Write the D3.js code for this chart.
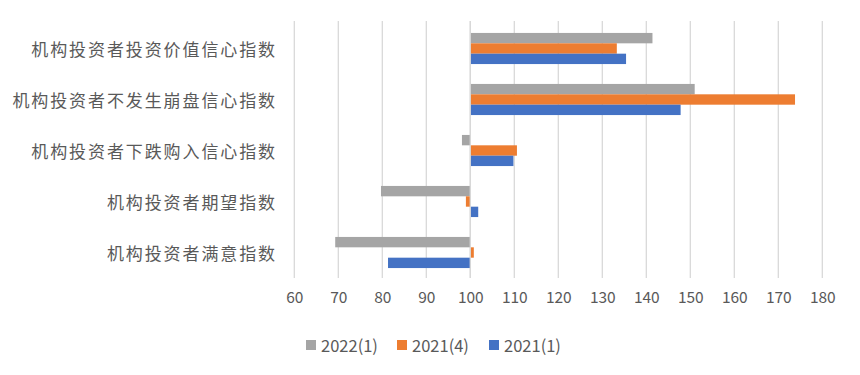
<!DOCTYPE html>
<html><head><meta charset="utf-8">
<script src="https://cdn.jsdelivr.net/npm/d3@7"></script>
<style>body{margin:0;background:#fff}</style>
</head><body><svg id="c" width="860" height="375"></svg>
<script>
const categories = ["机构投资者投资价值信心指数","机构投资者不发生崩盘信心指数","机构投资者下跌购入信心指数","机构投资者期望指数","机构投资者满意指数"];
const seriesNames = ["2022(1)","2021(4)","2021(1)"];
const seriesColors = ["#A5A5A5","#ED7D31","#4472C4"];
const s2022_1 = [141.4,151.0,98.1,79.7,69.3];
const s2021_4 = [133.3,173.8,110.6,99.0,100.8];
const s2021_1 = [135.4,147.8,109.8,101.8,81.3];
const tickValues = [60,70,80,90,100,110,120,130,140,150,160,170,180];
const baseline = 100;
const seriesValues = [s2022_1,s2021_4,s2021_1];

const svg = d3.select("#c");
const pLeft = 294.3, pRight = 822.3, pTop = 23, pBottom = 278;
const x = d3.scaleLinear().domain([60,180]).range([pLeft,pRight]);
const y = d3.scaleBand().domain(categories).range([pTop,pBottom]).paddingInner(0.39).paddingOuter(0.195);
const ys = d3.scaleBand().domain(seriesNames).range([0,y.bandwidth()]);
const font = "'Noto Sans CJK SC',sans-serif";
const numFont = "'Noto Sans CJK SC','Noto Sans',sans-serif";

// gridlines
svg.append("g").selectAll("line").data(tickValues).join("line")
  .attr("x1",d=>x(d)).attr("x2",d=>x(d)).attr("y1",pTop-2).attr("y2",pBottom)
  .attr("stroke","#D9D9D9").attr("stroke-width",1.3);

// bars
const g = svg.append("g");
seriesValues.forEach((vals,si)=>{
  g.selectAll(null).data(categories).join("rect")
    .attr("x",(c,i)=>x(Math.min(vals[i],baseline)))
    .attr("width",(c,i)=>Math.abs(x(vals[i])-x(baseline)))
    .attr("y",c=>y(c)+ys(seriesNames[si]))
    .attr("height",ys.bandwidth())
    .attr("fill",seriesColors[si]);
});

// baseline axis line
svg.append("line").attr("x1",x(baseline)).attr("x2",x(baseline)).attr("y1",pTop-2).attr("y2",pBottom)
  .attr("stroke","#D9D9D9").attr("stroke-width",1.3);

// x axis labels
const xa = svg.append("g").attr("transform",`translate(0,${pBottom})`)
  .call(d3.axisBottom(x).tickValues(tickValues).tickSize(0).tickPadding(14));
xa.select(".domain").remove();
xa.selectAll("text").attr("fill","#595959").style("font-size","15.5px").style("font-family",numFont);

// category labels
svg.append("g").selectAll("text").data(categories).join("text")
  .attr("x",277).attr("y",c=>y(c)+y.bandwidth()/2)
  .attr("text-anchor","end").attr("dominant-baseline","central")
  .attr("fill","#595959").style("font-size","17px").style("letter-spacing","1.9px")
  .style("font-family",font).text(d=>d);

// legend
const legX = [306,397,489];
const lg = svg.append("g");
seriesNames.forEach((n,i)=>{
  lg.append("rect").attr("x",legX[i]).attr("y",340).attr("width",10).attr("height",10).attr("fill",seriesColors[i]);
  lg.append("text").attr("x",legX[i]+15).attr("y",345).attr("dominant-baseline","central")
    .attr("fill","#595959").style("font-size","16.5px").style("font-family",numFont).text(n);
});
</script></body></html>
